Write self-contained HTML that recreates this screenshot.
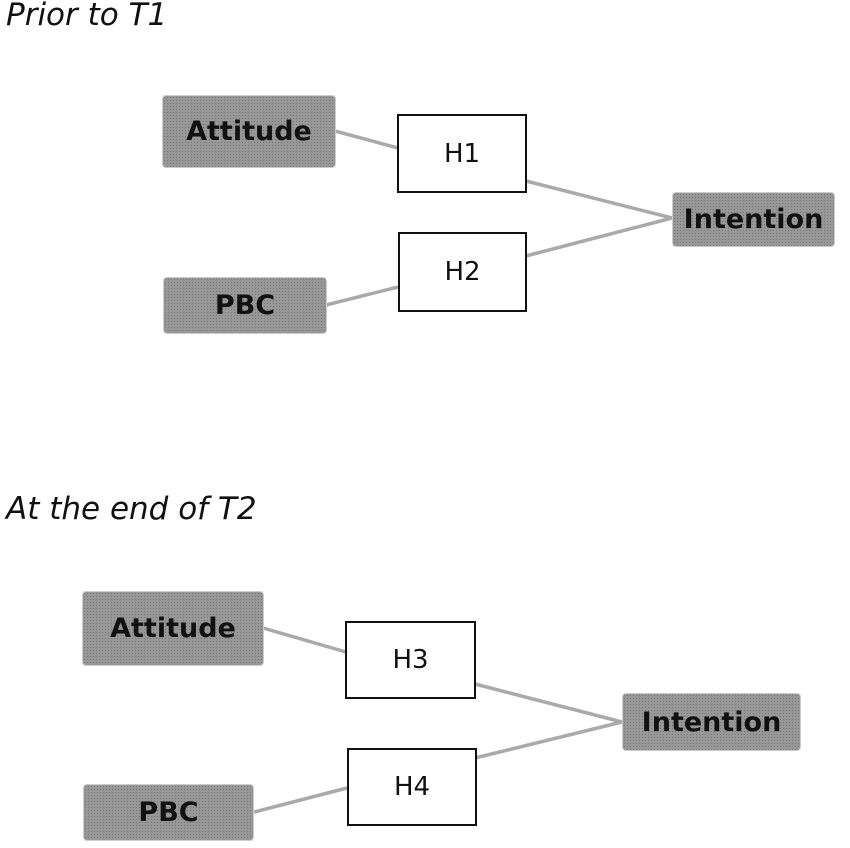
<!DOCTYPE html>
<html><head><style>
body{margin:0;width:850px;height:848px;background:#fff;position:relative;overflow:hidden;font-family:"DejaVu Sans","Liberation Sans",sans-serif}
.t{position:absolute;font-style:italic;font-size:31px;color:#111;font-family:"DejaVu Sans","Liberation Sans",sans-serif;letter-spacing:0px}
.g{position:absolute;background:#989898;border:1px solid #ccc;border-radius:4px;box-sizing:border-box;display:flex;align-items:center;justify-content:center;font-weight:bold;font-size:27px;color:#111;background-image:radial-gradient(#777 0.6px,transparent 0.8px);background-size:3px 3px}
.h{position:absolute;background:#fff;border:2px solid #111;box-sizing:border-box;display:flex;align-items:center;justify-content:center;font-size:26px;color:#111}
svg{position:absolute;left:0;top:0}
</style></head><body>
<svg width="850" height="848"><g stroke="#aaa" stroke-width="3.5">
<line x1="335" y1="131" x2="398" y2="148"/>
<line x1="326" y1="305" x2="398" y2="287"/>
<line x1="526" y1="181" x2="672" y2="218"/>
<line x1="526" y1="256" x2="672" y2="218"/>
<line x1="263" y1="628" x2="346" y2="652"/>
<line x1="254" y1="812" x2="347" y2="788"/>
<line x1="475" y1="684" x2="622" y2="722"/>
<line x1="475" y1="758" x2="622" y2="722"/>
</g></svg>
<div class="t" style="left:6px;top:-3px">Prior to T1</div>
<div class="t" style="left:6px;top:491px">At the end of T2</div>
<div class="g" style="left:162px;top:95px;width:174px;height:73px">Attitude</div>
<div class="g" style="left:163px;top:277px;width:164px;height:57px">PBC</div>
<div class="g" style="left:672px;top:192px;width:163px;height:55px">Intention</div>
<div class="h" style="left:397px;top:114px;width:130px;height:79px">H1</div>
<div class="h" style="left:398px;top:232px;width:129px;height:80px">H2</div>
<div class="g" style="left:82px;top:591px;width:182px;height:75px">Attitude</div>
<div class="g" style="left:83px;top:784px;width:171px;height:57px">PBC</div>
<div class="g" style="left:622px;top:693px;width:179px;height:58px">Intention</div>
<div class="h" style="left:345px;top:621px;width:131px;height:78px">H3</div>
<div class="h" style="left:347px;top:748px;width:130px;height:78px">H4</div>
</body></html>
